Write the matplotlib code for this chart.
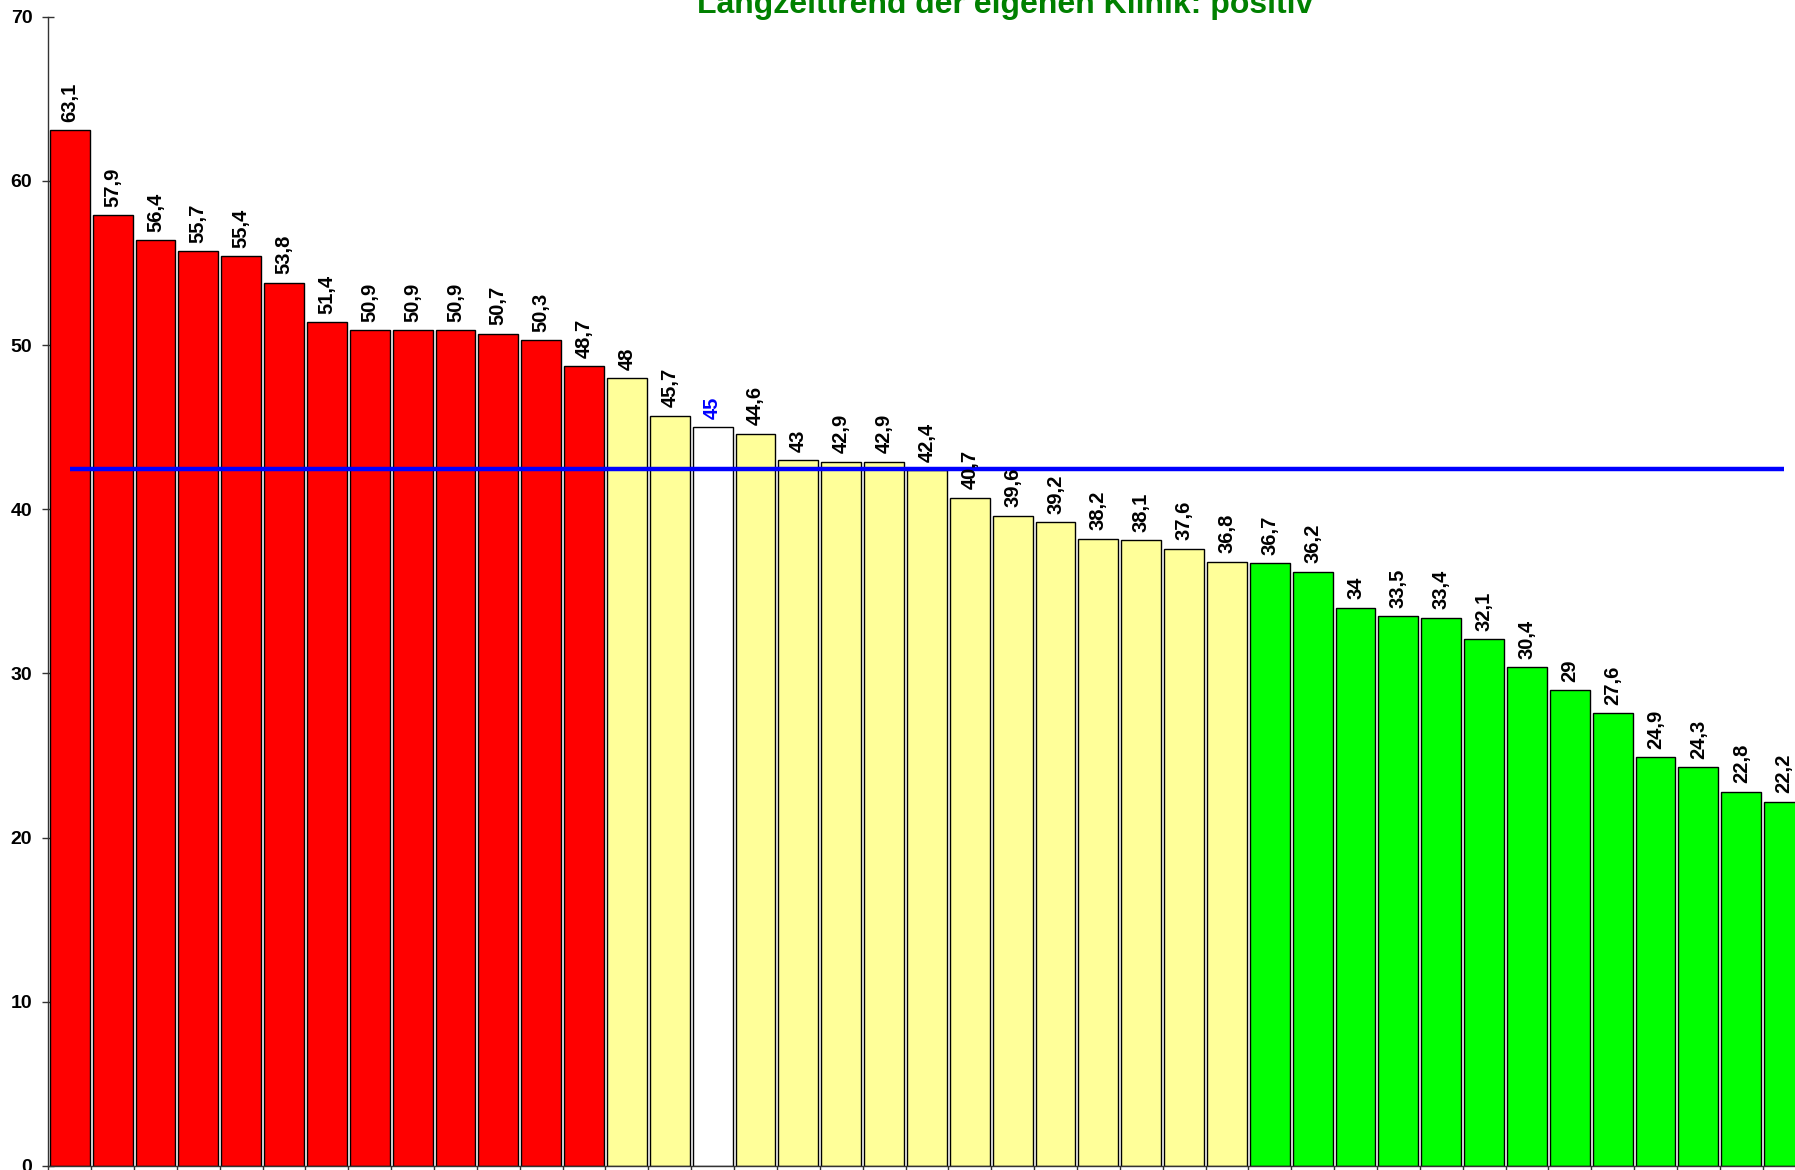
import matplotlib
matplotlib.use("Agg")
import matplotlib.pyplot as plt
import numpy as np

plt.rcParams["font.family"] = ["Liberation Sans", "DejaVu Sans"]
plt.rcParams["font.weight"] = "bold"

# values per clinic, sorted descending
values = [63.1, 57.9, 56.4, 55.7, 55.4, 53.8, 51.4, 50.9, 50.9, 50.9, 50.7, 50.3, 48.7,
          48.0, 45.7, 45.0, 44.6, 43.0, 42.9, 42.9, 42.4, 40.7, 39.6, 39.2, 38.2, 38.1,
          37.6, 36.8,
          36.7, 36.2, 34.0, 33.5, 33.4, 32.1, 30.4, 29.0, 27.6, 24.9, 24.3, 22.8, 22.2]
labels = ["63,1", "57,9", "56,4", "55,7", "55,4", "53,8", "51,4", "50,9", "50,9", "50,9",
          "50,7", "50,3", "48,7", "48", "45,7", "45", "44,6", "43", "42,9", "42,9", "42,4",
          "40,7", "39,6", "39,2", "38,2", "38,1", "37,6", "36,8", "36,7", "36,2", "34",
          "33,5", "33,4", "32,1", "30,4", "29", "27,6", "24,9", "24,3", "22,8", "22,2"]
groups = ["r"] * 13 + ["y"] * 15 + ["g"] * 13
own_clinic = 15
mean_value = 42.45
title = "Langzeittrend der eigenen Klinik: positiv"

group_colors = {"r": "#ff0000", "y": "#ffff99", "g": "#00ff00"}
colors = [group_colors[g] for g in groups]
colors[own_clinic] = "#ffffff"

W, H = 1795, 1170
fig = plt.figure(figsize=(W / 100, H / 100), dpi=100)
ax = fig.add_axes([48.3 / W, 4 / H, (W - 48.3) / W, (1166 - 16.7) / H])

x = np.arange(len(values))
ax.bar(x, values, width=0.93, color=colors, edgecolor="black", linewidth=1.0, zorder=2)
ax.plot([x[0], x[-1]], [mean_value, mean_value], color="#0000ff", lw=3.2,
        solid_capstyle="butt", zorder=3)

for i, (v, lab) in enumerate(zip(values, labels)):
    ax.annotate(lab, (i, v), xytext=(0, 6), textcoords="offset points",
                rotation=90, ha="center", va="bottom", fontsize=14.5, fontweight="bold",
                color="#0000ff" if i == own_clinic else "black", zorder=4)

ax.set_yticks(range(0, 71, 10))
ax.set_xticks(np.arange(len(values) + 1) - 0.5)
ax.set_xticklabels([])
# limits after the ticks, otherwise set_xticks widens the view
ax.set_xlim(-0.5, -0.5 + (W - 48.3) / 42.86)
ax.set_ylim(0, 70)
ax.tick_params(axis="y", direction="inout", length=9, width=1, labelsize=14, pad=7,
               colors="#333333", labelcolor="black")
ax.tick_params(axis="x", direction="out", length=4, width=1, colors="#333333")
for s in ["top", "right"]:
    ax.spines[s].set_visible(False)
for s in ["left", "bottom"]:
    ax.spines[s].set_color("#333333")
    ax.spines[s].set_linewidth(1.0)

fig.text(1005 / W, 1 - 13.5 / H, title, ha="center", va="baseline",
         fontsize=23, fontweight="bold", color="#008000")

fig.savefig("out.png", dpi=100)
